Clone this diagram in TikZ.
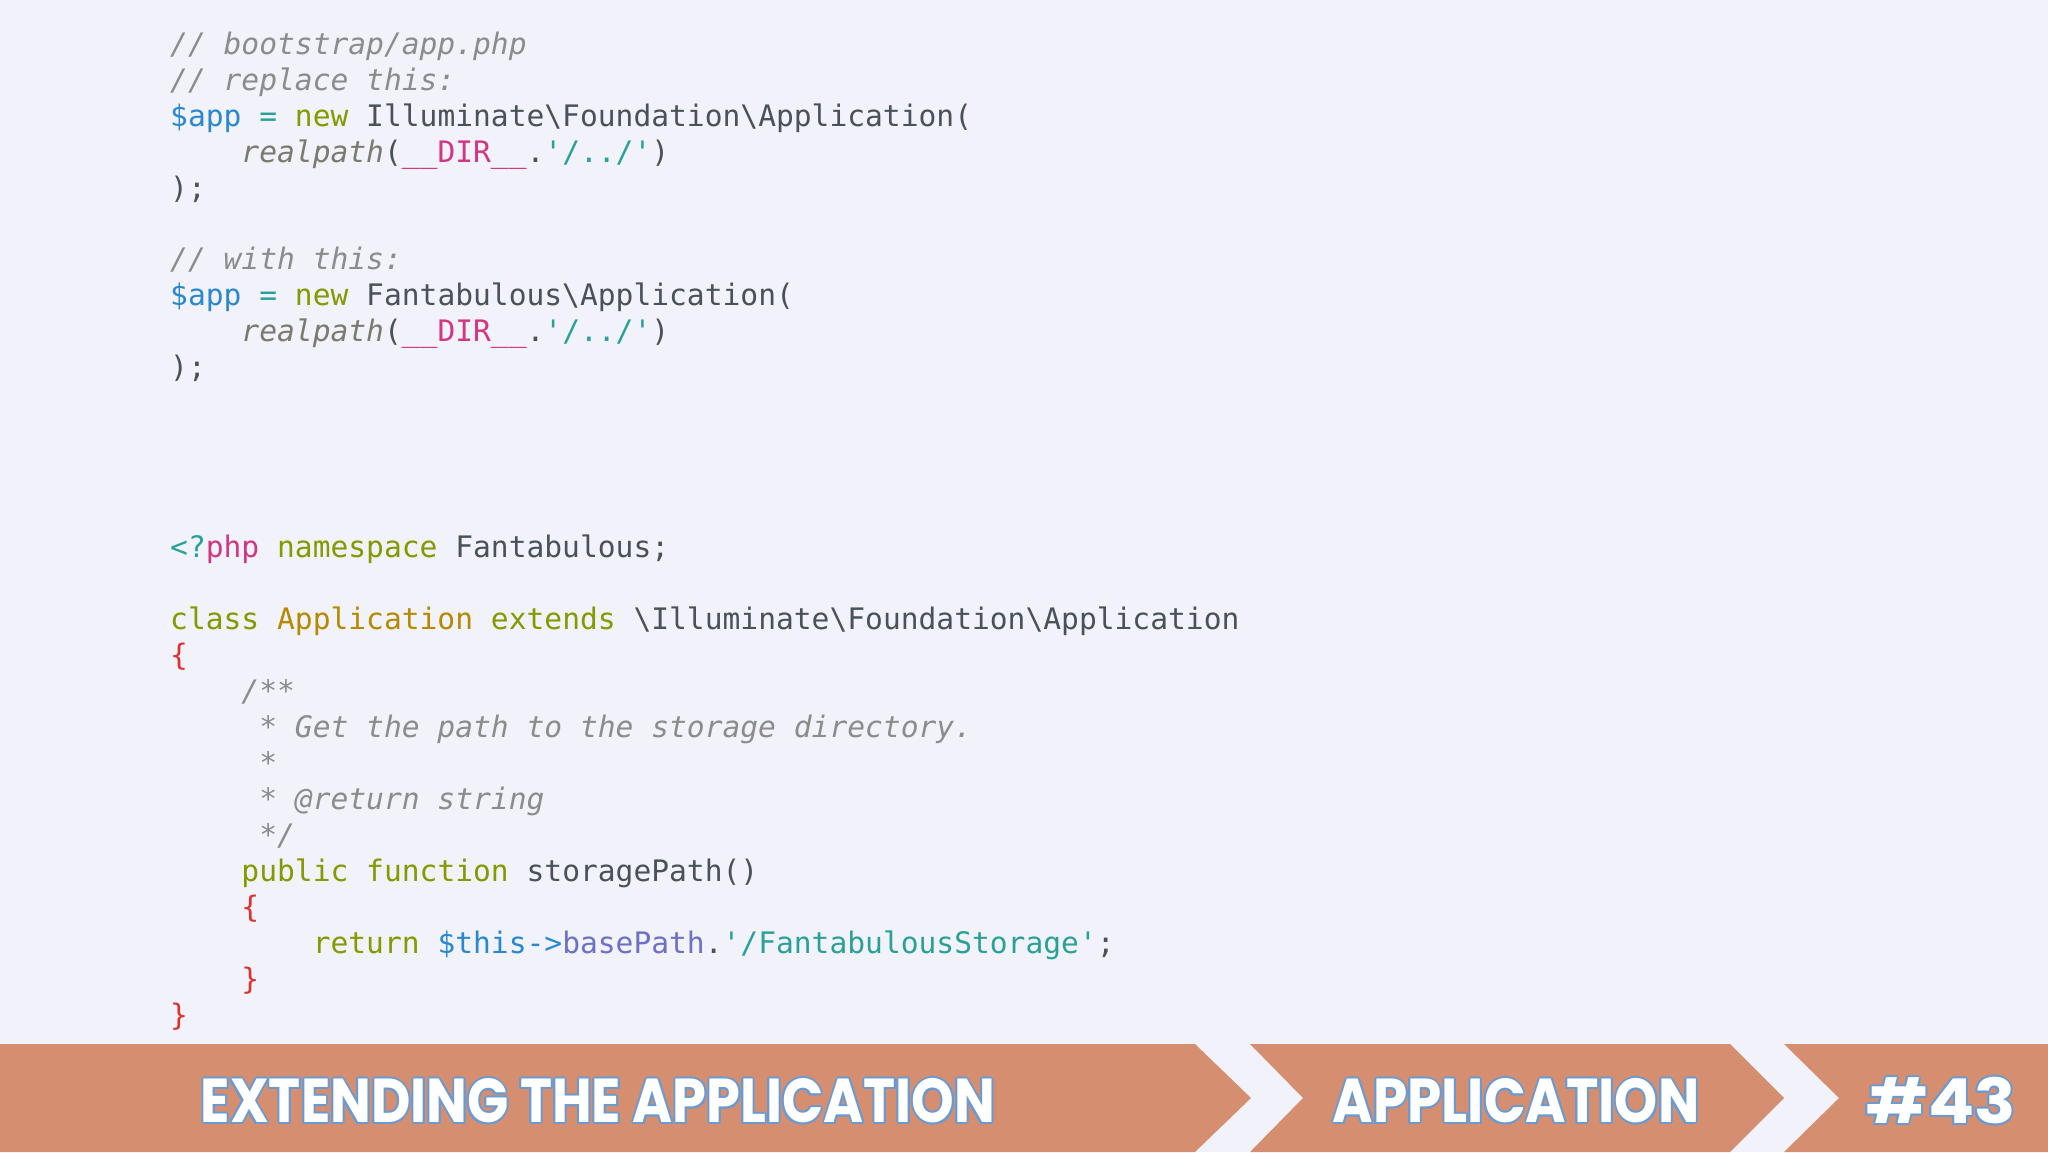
\documentclass[tikz,border=0pt]{standalone}
\usepackage{fontspec}
\newfontfamily\code{DejaVu Sans Mono}
\newfontfamily\banner{Poppins}
\usetikzlibrary{calc}
\definecolor{bg}{HTML}{F1F2FA}
\definecolor{band}{HTML}{D58F70}
\definecolor{cmt}{HTML}{8C8C8C}
\definecolor{var}{HTML}{2A88CF}
\definecolor{kw}{HTML}{859900}
\definecolor{txt}{HTML}{4A5258}
\definecolor{mag}{HTML}{D33682}
\definecolor{str}{HTML}{2AA198}
\definecolor{cls}{HTML}{B58900}
\definecolor{brc}{HTML}{DC322F}
\definecolor{vio}{HTML}{6C71C4}
\definecolor{fn}{HTML}{7A7A6E}
\definecolor{outl}{HTML}{6A9AD0}
\newcommand\Cm[1]{\textcolor{cmt}{\itshape #1}}
\newcommand\V[1]{\textcolor{var}{#1}}
\newcommand\K[1]{\textcolor{kw}{#1}}
\newcommand\M[1]{\textcolor{mag}{#1}}
\newcommand\St[1]{\textcolor{str}{#1}}
\newcommand\Cl[1]{\textcolor{cls}{#1}}
\newcommand\B[1]{\textcolor{brc}{#1}}
\newcommand\Fn[1]{\textcolor{fn}{\itshape #1}}
\newcommand\bs{\textbackslash}
\newcommand\bannertext[3]{%
  \foreach \dx/\dy in {-2/0,2/0,0/-2,0/2,-1.5/-1.5,1.5/1.5,-1.5/1.5,1.5/-1.5}{
    \node[font=\banner\bfseries\fontsize{62}{62}\selectfont,text=outl,xscale=#3,inner sep=0] at ($(#1)+(\dx,\dy)$) {#2};}
  \node[font=\banner\bfseries\fontsize{62}{62}\selectfont,text=white,xscale=#3,inner sep=0] at (#1) {#2};}
\begin{document}
\begin{tikzpicture}[x=1pt,y=-1pt,
  codeline/.style={anchor=base west,inner sep=0,font=\code\fontsize{29.6}{29.6}\selectfont,text=txt},
  bandshape/.style={fill=band,draw=none}]
\useasboundingbox (0,0) rectangle (2048,1152);
\fill[bg] (0,0) rectangle (2048,1152);
\def\cw{17.82}
\def\X{170}
\node[codeline] (l1) at (\X,54) {\Cm{// bootstrap/app.php}};
\node[codeline] (l2) at (\X,90) {\Cm{// replace this:}};
\node[codeline] (l3) at (\X,126) {\V{\$app} \St{=} \K{new} Illuminate\bs Foundation\bs Application(};
\node[codeline] (l4) at (\X+4*\cw,162) {\Fn{realpath}(\M{\_\_DIR\_\_}.\St{'/../'})};
\node[codeline] (l5) at (\X,198) {);};
\node[codeline] (l6) at (\X,269) {\Cm{// with this:}};
\node[codeline] (l7) at (\X,305) {\V{\$app} \St{=} \K{new} Fantabulous\bs Application(};
\node[codeline] (l8) at (\X+4*\cw,341) {\Fn{realpath}(\M{\_\_DIR\_\_}.\St{'/../'})};
\node[codeline] (l9) at (\X,377) {);};
\node[codeline] (m1) at (\X,557) {\St{<?}\M{php} \K{namespace} Fantabulous;};
\node[codeline] (m2) at (\X,629) {\K{class} \Cl{Application} \K{extends} \bs Illuminate\bs Foundation\bs Application};
\node[codeline] (m3) at (\X,665) {\B{\{}};
\node[codeline] (m4) at (\X+4*\cw,701) {\Cm{/**}};
\node[codeline] (m5) at (\X+5*\cw,737) {\Cm{* Get the path to the storage directory.}};
\node[codeline] (m6) at (\X+5*\cw,773) {\Cm{*}};
\node[codeline] (m7) at (\X+5*\cw,809) {\Cm{* @return string}};
\node[codeline] (m8) at (\X+5*\cw,845) {\Cm{*/}};
\node[codeline] (m9) at (\X+4*\cw,881) {\K{public} \K{function} storagePath()};
\node[codeline] (m10) at (\X+4*\cw,917) {\B{\{}};
\node[codeline] (m11) at (\X+8*\cw,953) {\K{return} \V{\$this->}\textcolor{vio}{basePath}.\St{'/FantabulousStorage'};};
\node[codeline] (m12) at (\X+4*\cw,989) {\B{\}}};
\node[codeline] (m13) at (\X,1025) {\B{\}}};
\fill[bandshape] (0,1044) -- (1195,1044) -- (1251,1098) -- (1195,1152) -- (0,1152) -- cycle;
\fill[bandshape] (1250,1044) -- (1730,1044) -- (1784,1098) -- (1730,1152) -- (1250,1152) -- (1303,1098) -- cycle;
\fill[bandshape] (1784,1044) -- (2048,1044) -- (2048,1152) -- (1784,1152) -- (1839,1098) -- cycle;
\coordinate (t1) at (598,1101);
\coordinate (t2) at (1516,1101);
\coordinate (t3) at (1941,1101);
\bannertext{t1}{EXTENDING THE APPLICATION}{0.875}
\bannertext{t2}{APPLICATION}{0.885}
\bannertext{t3}{\#43}{1.1}
\end{tikzpicture}
\end{document}
